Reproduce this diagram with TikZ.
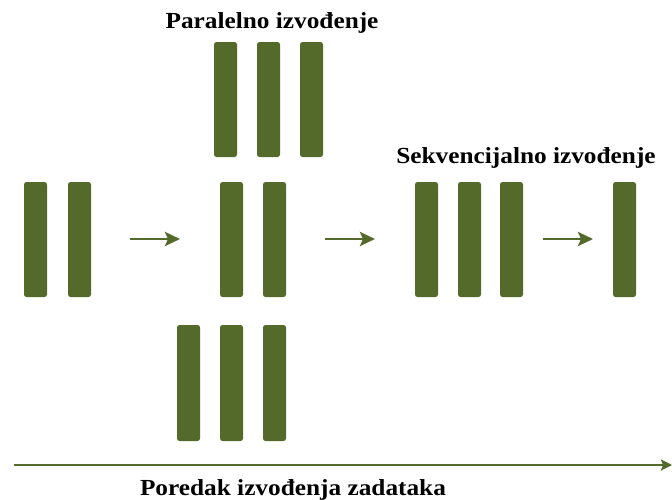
\documentclass[tikz,border=0pt]{standalone}
\usepackage{fontspec}
\setmainfont{Liberation Serif}
\usetikzlibrary{arrows.meta}
\definecolor{olive}{RGB}{84,106,43}
\begin{document}
\begin{tikzpicture}[x=1pt,y=-1pt,
  bar/.style={fill=olive,draw=none,rounded corners=2.5pt},
  flow/.style={draw=olive,line width=2.8pt,-{Stealth[length=15pt,width=14pt,inset=3pt]}},
  axis/.style={draw=olive,line width=2.4pt,-{Stealth[length=11pt,width=11pt,inset=2pt]}},
  lbl/.style={font=\bfseries\fontsize{23}{25}\selectfont,inner sep=0pt,text=black,xscale=1.1}]
\useasboundingbox (0,0) rectangle (672,499);
% top triple
\foreach \x [count=\i] in {214,257,300}
  \filldraw[bar] (\x,42) rectangle ++(23,115);
% left pair
\foreach \x [count=\i] in {24,68}
  \filldraw[bar] (\x,182) rectangle ++(23,115);
% middle pair
\foreach \x [count=\i] in {220,263}
  \filldraw[bar] (\x,182) rectangle ++(23,115);
% bottom triple
\foreach \x [count=\i] in {177,220,263}
  \filldraw[bar] (\x,325) rectangle ++(23,116);
% right triple
\foreach \x [count=\i] in {415,458,500}
  \filldraw[bar] (\x,182) rectangle ++(23,115);
% single
\filldraw[bar] (613,182) rectangle ++(23,115);
% arrows
\coordinate (a1s) at (130,239); \coordinate (a1e) at (180,239);
\coordinate (a2s) at (325,239); \coordinate (a2e) at (375,239);
\coordinate (a3s) at (543,239); \coordinate (a3e) at (593,239);
\draw[flow] (a1s) -- (a1e);
\draw[flow] (a2s) -- (a2e);
\draw[flow] (a3s) -- (a3e);
% axis
\coordinate (xs) at (14,465); \coordinate (xe) at (672,465);
\draw[axis] (xs) -- (xe);
% labels
\node[lbl] (lp) at (272,23) {Paralelno izvođenje};
\node[lbl] (ls) at (526,158) {Sekvencijalno izvođenje};
\node[lbl] (lo) at (293,490) {Poredak izvođenja zadataka};
\end{tikzpicture}
\end{document}
